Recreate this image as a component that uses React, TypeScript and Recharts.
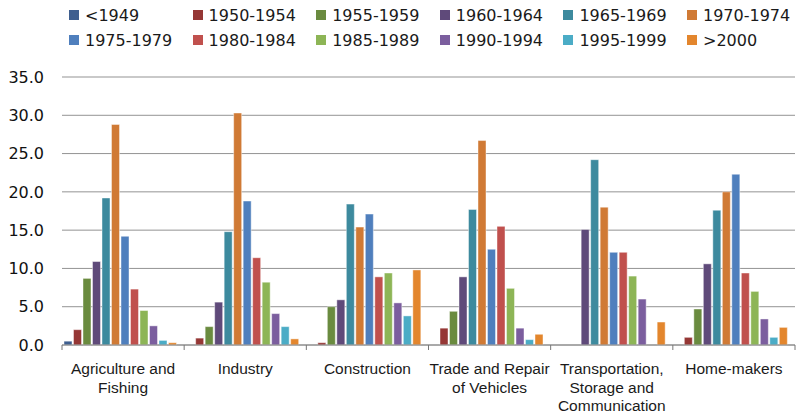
import React from 'react';
import { BarChart, Bar, XAxis, YAxis, CartesianGrid } from 'recharts';

const CATEGORIES = [
  'Agriculture and\nFishing',
  'Industry',
  'Construction',
  'Trade and Repair\nof Vehicles',
  'Transportation,\nStorage and\nCommunication',
  'Home-makers',
];

const SERIES = [
  '<1949', '1950-1954', '1955-1959', '1960-1964', '1965-1969', '1970-1974',
  '1975-1979', '1980-1984', '1985-1989', '1990-1994', '1995-1999', '>2000',
];

const COLORS = [
  '#3F5F8F', '#953735', '#6A8B3F', '#5F4A7A', '#3D8A9E', '#D07A35',
  '#4F7FBD', '#C0504D', '#8DB556', '#7B5E9E', '#4BACC6', '#E3862D',
];

// one array per birth cohort, values across the six categories
const V_1949 = [0.5, 0, 0, 0, 0, 0];
const V_1950 = [2.0, 0.9, 0.3, 2.2, 0, 1.0];
const V_1955 = [8.7, 2.4, 5.0, 4.4, 0, 4.7];
const V_1960 = [10.9, 5.6, 5.9, 8.9, 15.1, 10.6];
const V_1965 = [19.2, 14.8, 18.4, 17.7, 24.2, 17.6];
const V_1970 = [28.8, 30.3, 15.4, 26.7, 18.0, 20.0];
const V_1975 = [14.2, 18.8, 17.1, 12.5, 12.1, 22.3];
const V_1980 = [7.3, 11.4, 8.9, 15.5, 12.1, 9.4];
const V_1985 = [4.5, 8.2, 9.4, 7.4, 9.0, 7.0];
const V_1990 = [2.5, 4.1, 5.5, 2.2, 6.0, 3.4];
const V_1995 = [0.6, 2.4, 3.8, 0.7, 0, 1.0];
const V_2000 = [0.3, 0.8, 9.8, 1.4, 3.0, 2.3];

const VALUES = [V_1949, V_1950, V_1955, V_1960, V_1965, V_1970, V_1975, V_1980, V_1985, V_1990, V_1995, V_2000];

const Y_TICKS = [0, 5, 10, 15, 20, 25, 30, 35];

const data = CATEGORIES.map((name, i) => {
  const row: Record<string, any> = { name };
  SERIES.forEach((s, k) => {
    row['s' + k] = VALUES[k][i];
  });
  return row;
});

// category label plus the tick marks on the band edges (Excel style)
const CategoryTick = (props: any) => {
  const { x, y, payload, index, visibleTicksCount } = props;
  const lines = String(payload.value).split('\n');
  const half = payload.offset > 0 ? payload.offset : 61;
  const isLast = index === (visibleTicksCount ?? CATEGORIES.length) - 1;
  return (
    <g>
      <line x1={x - half} x2={x - half} y1={y} y2={y + 5} stroke="#777" />
      {isLast && <line x1={x + half} x2={x + half} y1={y} y2={y + 5} stroke="#777" />}
      <text x={x} y={y} textAnchor="middle" fill="#1a1a1a" fontSize={15.5} fontFamily="'Liberation Sans', Arial, sans-serif">
        {lines.map((l, i) => (
          <tspan key={i} x={x} dy={i === 0 ? 29 : 18.5}>{l}</tspan>
        ))}
      </text>
    </g>
  );
};

const LegendBox = () => (
  <div style={{ position: 'absolute', left: 0, top: 0, width: 797, height: 60, pointerEvents: 'none' }}>
    {SERIES.map((s, k) => {
      const col = k % 6;
      const row = Math.floor(k / 6);
      const left = 69 + col * 123.6;
      const top = row === 0 ? 10 : 35;
      return (
        <div key={s} style={{ position: 'absolute', left, top: top - 5, height: 20, display: 'flex', alignItems: 'center' }}>
          <span style={{ width: 10, height: 10, background: COLORS[k], display: 'inline-block', marginRight: 6 }} />
          <span style={{ fontFamily: "'DejaVu Sans', Verdana, sans-serif", fontSize: 16, color: '#1a1a1a', whiteSpace: 'nowrap' }}>{s}</span>
        </div>
      );
    })}
  </div>
);

export default function App() {
  return (
    <div style={{ position: 'absolute', left: 0, top: 0, width: 797, height: 414, background: '#fff' }}>
      <BarChart
        width={797}
        height={414}
        data={data}
        margin={{ top: 77, right: 2, bottom: 0, left: 0 }}
        barCategoryGap={2}
        barGap={1.5}
      >
        <CartesianGrid vertical={false} stroke="#939393" />
        <XAxis
          dataKey="name"
          interval={0}
          tick={<CategoryTick />}
          tickLine={false}
          tickSize={0}
          tickMargin={0}
          axisLine={{ stroke: '#8a8a8a' }}
          height={69}
        />
        <YAxis
          domain={[0, 35]}
          ticks={Y_TICKS}
          width={62}
          axisLine={false}
          tickLine={false}
          tickMargin={12}
          tickFormatter={(v: number) => v.toFixed(1)}
          tick={{ fill: '#111', fontSize: 16, fontFamily: "'DejaVu Sans', Verdana, sans-serif" }}
        />
        {SERIES.map((s, k) => (
          <Bar
            key={s}
            dataKey={'s' + k}
            name={s}
            fill={COLORS[k]}
            stroke="rgba(255,255,255,0.55)"
            strokeWidth={0.8}
            isAnimationActive={false}
          />
        ))}
      </BarChart>
      <LegendBox />
    </div>
  );
}
